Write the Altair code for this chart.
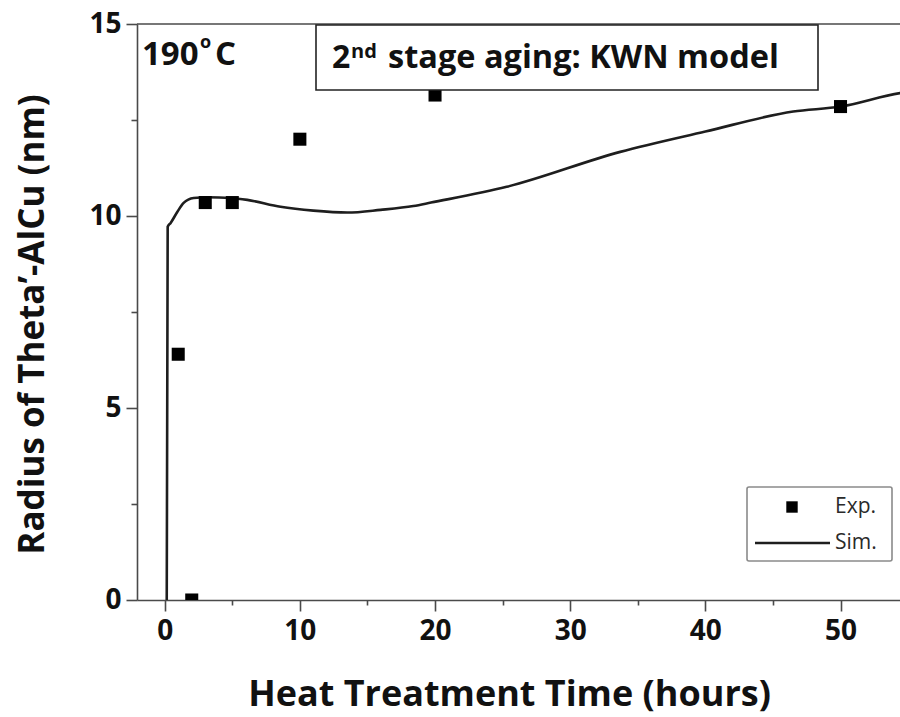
import altair as alt
import pandas as pd

# Experimental points (squares)
exp_time = [1, 2, 3, 5, 10, 20, 50]
exp_radius = [6.4, 0.0, 10.35, 10.35, 12.0, 13.15, 12.85]

# Simulated KWN curve
sim_time = [0.15, 0.22, 0.44, 0.94, 1.4, 2.14, 3.16, 4.88, 6.11, 8.57, 11.0, 13.5,
            15.97, 18.4, 19.7, 25.3, 33.7, 40.0, 46.5, 50.0, 54.4, 56.0]
sim_radius = [0.0, 9.72, 9.82, 10.11, 10.34, 10.47, 10.49, 10.47, 10.42, 10.24, 10.14, 10.09,
              10.16, 10.26, 10.35, 10.76, 11.67, 12.2, 12.72, 12.85, 13.2, 13.27]

x_ticks = [0, 5, 10, 15, 20, 25, 30, 35, 40, 45, 50]
y_ticks = [0, 2.5, 5, 7.5, 10, 12.5, 15]

exp_df = pd.DataFrame({"t": exp_time, "r": exp_radius})
sim_df = pd.DataFrame({"t": sim_time, "r": sim_radius})

FONT = "Open Sans"
INK = "#111111"
AX = "#4a4a4a"
W, H = 763, 576

x_scale = alt.Scale(domain=[-2.05, 54.4], nice=False, zero=False)
y_scale = alt.Scale(domain=[0, 15], nice=False)

x_axis = alt.Axis(
    values=x_ticks,
    labelExpr="datum.value % 10 === 0 ? datum.label : ''",
    tickSize={"condition": {"test": "datum.value % 10 === 0", "value": 11}, "value": 5},
    grid=False, domainColor=AX, domainWidth=1.6, tickColor=AX, tickWidth=1.6,
    labelFont=FONT, labelFontWeight="bold", labelFontSize=28, labelColor=INK,
    labelPadding=6, labelFlush=False,
    title="Heat Treatment Time (hours)",
    titleFont=FONT, titleFontWeight="bold", titleFontSize=36, titleColor=INK,
    titleX=372, titleY=105, titleBaseline="alphabetic", titleAlign="center",
)
y_axis = alt.Axis(
    values=y_ticks,
    labelExpr="datum.value % 5 === 0 ? datum.label : ''",
    tickSize={"condition": {"test": "datum.value % 5 === 0", "value": 11}, "value": 6},
    grid=False, domainColor=AX, domainWidth=1.6, tickColor=AX, tickWidth=1.6,
    labelFont=FONT, labelFontWeight="bold", labelFontSize=28, labelColor=INK,
    labelPadding=5, labelFlush=False,
    title="Radius of Theta\u2019-AlCu (nm)",
    titleFont=FONT, titleFontWeight="bold", titleFontSize=35, titleColor=INK,
    titleAngle=-90, titleX=-105, titleY=300, titleAlign="center", titleBaseline="middle",
)

sim = alt.Chart(sim_df).mark_line(color="#1e1e1e", strokeWidth=2.6, interpolate="monotone", clip=True).encode(
    x=alt.X("t:Q", scale=x_scale, axis=x_axis),
    y=alt.Y("r:Q", scale=y_scale, axis=y_axis),
)
exp = alt.Chart(exp_df).mark_square(color="#000000", opacity=1, size=170, clip=True).encode(
    x=alt.X("t:Q", scale=x_scale),
    y=alt.Y("r:Q", scale=y_scale),
)

one = alt.Data(values=[{}])

top_rule = alt.Chart(one).mark_rule(color=AX, strokeWidth=1.6).encode(
    x=alt.value(0), x2=alt.value(W), y=alt.value(0))

def txt(s, x, y, size, weight="bold", color=INK, align="left", baseline="alphabetic"):
    return alt.Chart(one).mark_text(text=s, font=FONT, fontSize=size, fontWeight=weight,
                                    color=color, align=align, baseline=baseline).encode(
        x=alt.value(x), y=alt.value(y))

temp = txt("190", 5, 41, 33) + txt("o", 63, 24, 18) + txt("C", 78, 41, 33)

title_box = alt.Chart(one).mark_rect(fill="white", stroke="#222222", strokeWidth=1.6).encode(
    x=alt.value(179), x2=alt.value(681), y=alt.value(1), y2=alt.value(66))
title_txt = txt("2", 195, 44, 32) + txt("nd", 214, 34, 20) + txt("stage aging: KWN model", 251, 44, 32.5)

leg_box = alt.Chart(one).mark_rect(fill="white", stroke="#8a8a8a", strokeWidth=1.6, cornerRadius=2).encode(
    x=alt.value(610), x2=alt.value(755), y=alt.value(463), y2=alt.value(537))
leg_sq = alt.Chart(one).mark_square(color="#000000", opacity=1, size=130).encode(
    x=alt.value(655), y=alt.value(483))
leg_line = alt.Chart(one).mark_rule(color="#1e1e1e", strokeWidth=2.4).encode(
    x=alt.value(618), x2=alt.value(693), y=alt.value(519))
leg_txt = (txt("Exp.", 698, 483, 21, weight="normal", color="#2a2a2a", baseline="middle")
           + txt("Sim.", 698, 519, 21, weight="normal", color="#2a2a2a", baseline="middle"))

chart = alt.layer(
    sim, exp, top_rule, temp, title_box, title_txt, leg_box, leg_sq, leg_line, leg_txt
).properties(
    width=W, height=H,
    autosize=alt.AutoSizeParams(type="none"),
    padding={"left": 137, "top": 24, "right": 0, "bottom": 117},
    background="white",
).configure_view(strokeWidth=0)

chart.save("out.html", embed_options={"renderer": "svg", "actions": False})
